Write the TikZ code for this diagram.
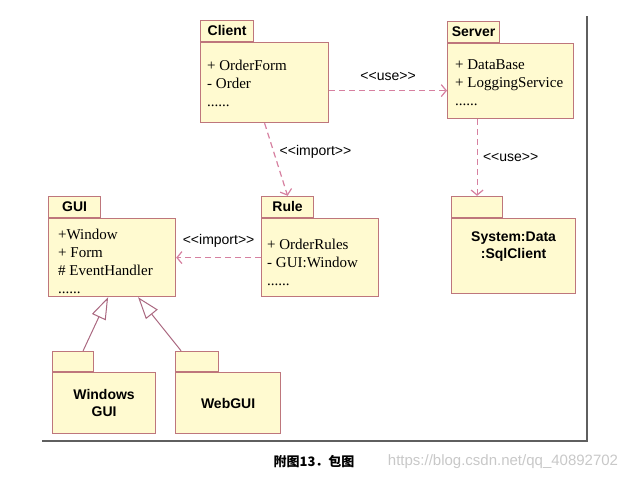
\documentclass[tikz,border=0pt]{standalone}
\usepackage{fontspec}
\setmainfont{Liberation Serif}
\setsansfont{Liberation Sans}
\newfontfamily\cjk{Noto Sans CJK SC}
\usetikzlibrary{arrows.meta, calc}

\definecolor{pkgfill}{RGB}{255,250,208}
\definecolor{pkgline}{RGB}{190,118,124}
\definecolor{deparrow}{RGB}{214,128,160}
\definecolor{genline}{RGB}{170,104,128}
\definecolor{framegray}{RGB}{95,95,95}
\definecolor{markgray}{RGB}{200,200,200}

\tikzset{
	pkgbody/.style={draw=pkgline, fill=pkgfill, line width=1.2pt, anchor=north west, inner sep=0pt},
	pkgtab/.style={draw=pkgline, fill=pkgfill, line width=1.2pt, anchor=south west, inner sep=0pt, minimum height=21pt, font=\sffamily\bfseries\fontsize{14}{16}\selectfont},
	pkgtitle/.style={align=center, inner sep=0pt, font=\sffamily\bfseries\fontsize{14}{17}\selectfont},
	members/.style={anchor=north west, align=left, inner sep=0pt, font=\fontsize{15}{18}\selectfont},
	stereo/.style={font=\sffamily\fontsize{14}{16}\selectfont},
	dep/.style={draw=deparrow, line width=1.2pt, dash pattern=on 6pt off 4pt, -{Straight Barb[length=5pt, width=12pt, line width=1.2pt]}},
	gen/.style={draw=genline, line width=1pt, -{Triangle[open, length=22pt, width=15pt, fill=white]}}
}

\begin{document}
\begin{tikzpicture}[x=1pt, y=-1pt]
	\useasboundingbox (0,0) rectangle (638,482);
	
	% Frame
	\coordinate (ftop) at (587,16);
	\coordinate (fcorner) at (587,441);
	\coordinate (fleft) at (42,441);
	\draw[framegray, line width=2.6pt] (ftop) -- (fcorner) -- (fleft);
	
	% Client
	\node[pkgtab, minimum width=53pt] (clienttab) at (200,42) {Client};
	\node[pkgbody, minimum width=128pt, minimum height=80pt] (clientbody) at (200,42) {};
	\node[members] (clientm) at (207,60) {+ OrderForm\\- Order\\......};
	
	% Server
	\node[pkgtab, minimum width=52pt] (servertab) at (447,43) {Server};
	\node[pkgbody, minimum width=126pt, minimum height=75pt] (serverbody) at (447,43) {};
	\node[members] (serverm) at (455,59) {+ DataBase\\+ LoggingService\\......};
	
	% GUI
	\node[pkgtab, minimum width=52pt] (guitab) at (48,218) {GUI};
	\node[pkgbody, minimum width=127pt, minimum height=78pt] (guibody) at (48,218) {};
	\node[members] (guim) at (58,229) {+Window\\+ Form\\\# EventHandler\\......};
	
	% Rule
	\node[pkgtab, minimum width=52pt] (ruletab) at (261,218) {Rule};
	\node[pkgbody, minimum width=117pt, minimum height=78pt] (rulebody) at (261,218) {};
	\node[members] (rulem) at (267,239) {+ OrderRules\\- GUI:Window\\......};
	
	% System:Data
	\node[pkgtab, minimum width=51pt] (sqltab) at (451,218) {};
	\node[pkgbody, minimum width=124pt, minimum height=75pt] (sqlbody) at (451,218) {};
	\node[pkgtitle] (sqlname) at ([yshift=10pt]sqlbody.center) {System:Data\\:SqlClient};
	
	% Windows GUI
	\node[pkgtab, minimum width=41pt, minimum height=20pt] (wintab) at (52,372) {};
	\node[pkgbody, minimum width=103pt, minimum height=61pt] (winbody) at (52,372) {};
	\node[pkgtitle] (winname) at (winbody.center) {Windows\\GUI};
	
	% WebGUI
	\node[pkgtab, minimum width=43pt, minimum height=20pt] (webtab) at (175,372) {};
	\node[pkgbody, minimum width=105pt, minimum height=61pt] (webbody) at (175,372) {};
	\node[pkgtitle] (webname) at (webbody.center) {WebGUI};
	
	% Dependencies
	\draw[dep] ($(clientbody.east)+(0,8)$) -- node[stereo, above=6pt]{<{}<use>{}>} ($(clientbody.east -| serverbody.west)+(0,8)$);
	\draw[dep] (clientbody.south) -- node[stereo, pos=0.4, right=2pt]{<{}<import>{}>} (ruletab.north);
	\draw[dep] (rulebody.west) -- node[stereo, above=6pt]{<{}<import>{}>} (guibody.east);
	\draw[dep] (serverbody.south -| sqltab.north) -- node[stereo, right=2pt]{<{}<use>{}>} (sqltab.north);
	
	% Generalization
	\draw[gen] ([xshift=10pt]wintab.north) -- ([xshift=-4pt]guibody.south);
	\draw[gen] ([xshift=-16pt]webtab.north) -- ([xshift=26pt]guibody.south);
	
	% Caption
	\node[font=\cjk\bfseries\fontsize{13}{15}\selectfont] (caption) at (314,462) {附图13．包图};
	\node[font=\sffamily\fontsize{15}{17}\selectfont, text=markgray] (mark) at (503,462) {https://blog.csdn.net/qq\_40892702};
\end{tikzpicture}
\end{document}
